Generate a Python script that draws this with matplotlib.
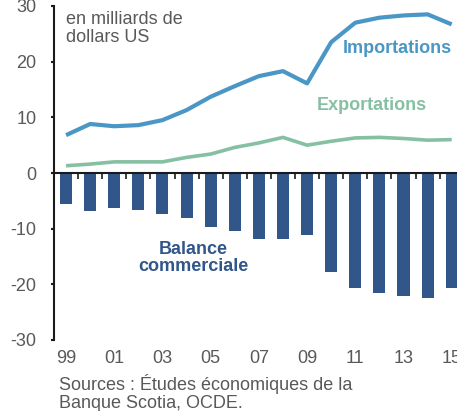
import matplotlib
matplotlib.use("Agg")
import matplotlib.pyplot as plt
import matplotlib.transforms as mtransforms

plt.rcParams['font.family'] = ['Liberation Sans', 'DejaVu Sans']

years = list(range(1999, 2016))
imports = [6.8, 8.8, 8.4, 8.6, 9.5, 11.3, 13.7, 15.6, 17.4, 18.3, 16.1, 23.5, 27.0, 27.9, 28.3, 28.5, 26.7]
exports = [1.3, 1.6, 2.0, 2.0, 2.0, 2.8, 3.4, 4.6, 5.4, 6.4, 5.0, 5.7, 6.3, 6.4, 6.2, 5.9, 6.0]
balance = [-5.6, -6.9, -6.3, -6.6, -7.4, -8.1, -9.7, -10.4, -11.8, -11.8, -11.2, -17.8, -20.6, -21.5, -22.1, -22.4, -20.6]
xtick_years = [1999, 2001, 2003, 2005, 2007, 2009, 2011, 2013, 2015]
xtick_labels = ['99', '01', '03', '05', '07', '09', '11', '13', '15']
yticks = [-30, -20, -10, 0, 10, 20, 30]

c_imp = '#4a97c6'
c_exp = '#86c0a2'
c_bal = '#30568a'
c_txt = '#595959'
fs = 13

fig = plt.figure(figsize=(4.57, 4.11), dpi=100)
ax = fig.add_axes([54/457, (411-340)/411, 1 - 54/457, (340-6)/411])

ax.bar(years, balance, width=0.5, color=c_bal, zorder=2)
ax.plot(years, imports, color=c_imp, lw=3.0, zorder=3, solid_capstyle='butt')
ax.plot(years, exports, color=c_exp, lw=2.6, zorder=3, solid_capstyle='butt')

ax.set_xlim(1998.5, 2015.22)
ax.set_ylim(-30, 30)

for s in ['top', 'right']:
    ax.spines[s].set_visible(False)
ax.spines['bottom'].set_position(('data', 0))
ax.spines['bottom'].set_linewidth(1.5)
ax.spines['left'].set_linewidth(1.5)
ax.spines['bottom'].set_color('#1a1a1a')
ax.spines['left'].set_color('#1a1a1a')

ax.set_yticks(yticks)
ax.set_yticklabels([str(v) for v in yticks], fontsize=fs, color=c_txt)
ax.tick_params(axis='y', length=2.5, width=1.5, color='#1a1a1a', pad=10)

ax.set_xticks([y + 0.5 for y in years[:-1]])
ax.set_xticklabels([])
ax.tick_params(axis='x', length=4, width=1.2, color='#1a1a1a', direction='out')

trans = mtransforms.blended_transform_factory(ax.transData, ax.transAxes)
for yr, lab in zip(xtick_years, xtick_labels):
    ax.text(yr, -0.03, lab, transform=trans, ha='center', va='top', fontsize=fs, color=c_txt)

ax.text(0.03, 0.985, 'en milliards de\ndollars US', transform=ax.transAxes, ha='left', va='top',
        fontsize=fs, color=c_txt, linespacing=1.1)
ax.text(2012.73, 22.4, 'Importations', ha='center', va='center', fontsize=fs, fontweight='bold', color=c_imp)
ax.text(2011.68, 12.2, 'Exportations', ha='center', va='center', fontsize=fs, fontweight='bold', color=c_exp)
ax.text(2004.27, -15.3, 'Balance\ncommerciale', ha='center', va='center', fontsize=fs, fontweight='bold',
        color=c_bal, linespacing=1.05)

fig.text(59/457, 1 - 374/411, 'Sources : Études économiques de la\nBanque Scotia, OCDE.', ha='left', va='top',
         fontsize=fs, color=c_txt, linespacing=1.05)

fig.savefig('out.png', dpi=100)
